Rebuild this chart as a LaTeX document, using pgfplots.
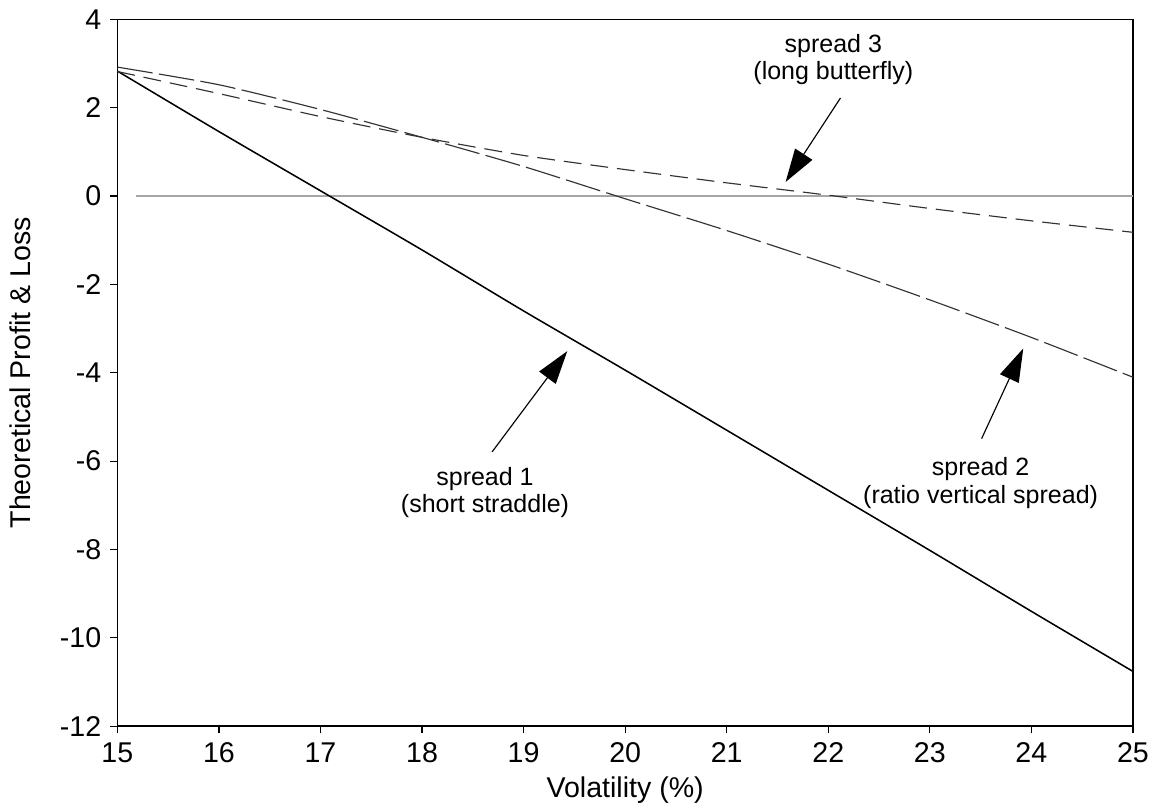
\documentclass[border=0pt]{standalone}
\usepackage{fontspec}
\setmainfont{Liberation Sans}
\usepackage{pgfplots}
\pgfplotsset{compat=1.18}
\usetikzlibrary{arrows.meta}
\begin{document}
\begin{tikzpicture}
\useasboundingbox (-46pt,-33.3pt) rectangle (409pt,284.6pt);
\begin{axis}[
  scale only axis,
  width=398pt, height=277pt,
  xmin=15, xmax=25, ymin=-12, ymax=4,
  xtick={15,16,...,25},
  ytick={-12,-10,...,4},
  tick pos=left,
  tick align=outside,
  major tick length=2.8pt,
  tick style={black, line width=0.5pt},
  axis line style={black, line width=0.6pt},
  /pgf/number format/assume math mode=true,
  tick label style={font=\fontsize{11.2}{13}\selectfont},
  label style={font=\fontsize{11.2}{13}\selectfont},
  xlabel={Volatility (\%)},
  ylabel={Theoretical Profit \& Loss},
  x label style={at={(axis description cs:0.5,-0.0903)}, anchor=center},
  y label style={at={(axis description cs:-0.0955,0.5)}, anchor=center},
  clip=false,
]
% zero reference line
\addplot[gray!70, line width=0.5pt] coordinates {(15.18,0)(25,0)};
% spread 1 (short straddle)
\addplot[black, line width=0.6pt, smooth, tension=0.4] coordinates {
(15,2.83)(16,1.46)(17,0.12)(18,-1.22)(19,-2.6)(20,-3.94)(21,-5.3)(22,-6.66)(23,-8.02)(24,-9.4)(25,-10.76)};
% spread 2 (ratio vertical spread)
\addplot[black!80, line width=0.45pt, smooth, tension=0.4, dash pattern=on 14pt off 2.5pt] coordinates {
(15,2.92)(16,2.52)(17,1.96)(18,1.33)(19,0.67)(20,-0.06)(21,-0.78)(22,-1.54)(23,-2.35)(24,-3.2)(25,-4.1)};
% spread 3 (long butterfly)
\addplot[black!80, line width=0.45pt, smooth, tension=0.4, dash pattern=on 7pt off 3.5pt] coordinates {
(15,2.82)(16,2.32)(17,1.8)(18,1.33)(19,0.92)(20,0.6)(21,0.3)(22,0.02)(23,-0.28)(24,-0.56)(25,-0.82)};
% annotations
\draw[line width=0.45pt, -{Triangle[length=13pt,width=8pt]}] (axis cs:18.69,-5.79) -- (axis cs:19.43,-3.51);
\node[align=center, font=\fontsize{9.8}{10.7}\selectfont, anchor=north] at (axis cs:18.62,-5.93) {spread 1\\(short straddle)};
\draw[line width=0.45pt, -{Triangle[length=13pt,width=8pt]}] (axis cs:23.51,-5.49) -- (axis cs:23.92,-3.45);
\node[align=center, font=\fontsize{9.8}{10.7}\selectfont, anchor=north] at (axis cs:23.50,-5.72) {spread 2\\(ratio vertical spread)};
\draw[line width=0.45pt, -{Triangle[length=13pt,width=8pt]}] (axis cs:22.12,2.22) -- (axis cs:21.58,0.32);
\node[align=center, font=\fontsize{9.8}{10.7}\selectfont, anchor=south] at (axis cs:22.05,2.32) {spread 3\\(long butterfly)};
\end{axis}
\end{tikzpicture}
\end{document}
